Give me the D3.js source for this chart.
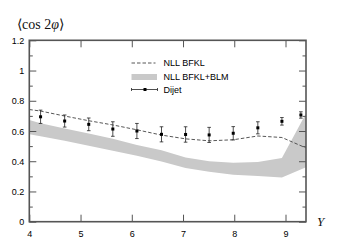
<!DOCTYPE html>
<html>
<head>
<meta charset="utf-8">
<script src="https://cdn.jsdelivr.net/npm/d3@7"></script>
<style>
  body { margin: 0; background: #fff; }
  svg { display: block; }
</style>
</head>
<body>
<svg id="drawing_region"></svg>
<script>
// rapidity bins of the dijet measurement
const rapidity = [4.22, 4.69, 5.16, 5.63, 6.10, 6.58, 7.05, 7.51, 7.98, 8.46, 8.93, 9.30];
const dijet = [0.694, 0.666, 0.644, 0.613, 0.600, 0.578, 0.577, 0.574, 0.585, 0.621, 0.664, 0.706];
const dijet_err = [0.044, 0.040, 0.042, 0.048, 0.050, 0.050, 0.051, 0.050, 0.044, 0.040, 0.025, 0.021];

// theory curves
const theory_y = [4.0, 4.22, 4.69, 5.16, 5.63, 6.10, 6.58, 7.05, 7.51, 7.98, 8.46, 8.93, 9.4];
const nll = [0.742, 0.732, 0.699, 0.668, 0.640, 0.608, 0.573, 0.548, 0.535, 0.542, 0.567, 0.557, 0.488];
const blm_low = [0.578, 0.565, 0.535, 0.502, 0.469, 0.436, 0.398, 0.355, 0.330, 0.310, 0.302, 0.293, 0.360];
const blm_high = [0.672, 0.651, 0.617, 0.583, 0.549, 0.507, 0.472, 0.425, 0.400, 0.390, 0.395, 0.421, 0.715];

const x_ticks = [4, 5, 6, 7, 8, 9];
const y_ticks = [0, 0.2, 0.4, 0.6, 0.8, 1, 1.2];
const y_minor = [0.1, 0.3, 0.5, 0.7, 0.9, 1.1];

class AsymChart {

  constructor( config ) {
    this.config = {
      parent: config.parent,
      width: config.width || 338,
      height: config.height || 248,
      margin: config.margin,
    };
    this.init();
  }

  init() {
    let self = this;
    const m = self.config.margin;

    self.inner_width = self.config.width - m.left - m.right;
    self.inner_height = self.config.height - m.top - m.bottom;

    self.svg = d3.select( self.config.parent )
      .attr('width', self.config.width)
      .attr('height', self.config.height);

    self.chart = self.svg.append('g')
      .attr('transform', `translate(${m.left}, ${m.top})`);

    self.xscale = d3.scaleLinear()
      .domain([4, 9.4])
      .range([0, self.inner_width]);

    self.yscale = d3.scaleLinear()
      .domain([0, 1.2])
      .range([self.inner_height, 0]);
  }

  render() {
    let self = this;
    const W = self.inner_width, H = self.inner_height;
    const axis_color = '#555';
    const font = 'Liberation Sans, Arial, sans-serif';

    // BLM band
    const band = theory_y.map( (y, i) => ({ y: y, lo: blm_low[i], hi: blm_high[i] }) );
    self.chart.append('path')
      .datum(band)
      .attr('fill', '#c9c9c9')
      .attr('d', d3.area()
        .x( d => self.xscale(d.y) )
        .y0( d => self.yscale(d.lo) )
        .y1( d => self.yscale(d.hi) ));

    // NLL BFKL dashed
    self.chart.append('path')
      .datum( theory_y.map( (y, i) => [y, nll[i]] ) )
      .attr('fill', 'none')
      .attr('stroke', '#444')
      .attr('stroke-width', 0.9)
      .attr('stroke-dasharray', '3.5,2')
      .attr('d', d3.line()
        .x( d => self.xscale(d[0]) )
        .y( d => self.yscale(d[1]) ));

    // dijet points with error bars
    const pts = self.chart.selectAll('.pt')
      .data( rapidity.map( (y, i) => ({ y: y, v: dijet[i], e: dijet_err[i] }) ) )
      .enter()
      .append('g')
      .attr('class', 'pt')
      .attr('transform', d => `translate(${self.xscale(d.y)},0)`);

    pts.append('line')
      .attr('y1', d => self.yscale(d.v - d.e))
      .attr('y2', d => self.yscale(d.v + d.e))
      .attr('stroke', '#222')
      .attr('stroke-width', 0.8);
    pts.append('line')
      .attr('x1', -1.8).attr('x2', 1.8)
      .attr('y1', d => self.yscale(d.v + d.e))
      .attr('y2', d => self.yscale(d.v + d.e))
      .attr('stroke', '#222').attr('stroke-width', 0.8);
    pts.append('line')
      .attr('x1', -1.8).attr('x2', 1.8)
      .attr('y1', d => self.yscale(d.v - d.e))
      .attr('y2', d => self.yscale(d.v - d.e))
      .attr('stroke', '#222').attr('stroke-width', 0.8);
    pts.append('rect')
      .attr('x', -1.5).attr('width', 3)
      .attr('y', d => self.yscale(d.v) - 1.5).attr('height', 3)
      .attr('fill', '#000');

    // axes: ticks inward on all four sides
    const bottom = self.chart.append('g')
      .attr('transform', `translate(0, ${H})`)
      .call( d3.axisBottom(self.xscale).tickValues(x_ticks).tickSize(-7).tickFormat(d3.format('d')) );
    const top = self.chart.append('g')
      .call( d3.axisTop(self.xscale).tickValues(x_ticks).tickSize(-7).tickFormat('') );
    const left = self.chart.append('g')
      .call( d3.axisLeft(self.yscale).tickValues(y_ticks).tickSize(-7)
        .tickFormat( d => d === 0 || d === 1 ? d3.format('d')(d) : d3.format('.1f')(d) ) );
    const left_minor = self.chart.append('g')
      .call( d3.axisLeft(self.yscale).tickValues(y_minor).tickSize(-3.5).tickFormat('') );
    const right = self.chart.append('g')
      .attr('transform', `translate(${W}, 0)`)
      .call( d3.axisRight(self.yscale).tickValues(y_ticks).tickSize(-7).tickFormat('') );
    const right_minor = self.chart.append('g')
      .attr('transform', `translate(${W}, 0)`)
      .call( d3.axisRight(self.yscale).tickValues(y_minor).tickSize(-3.5).tickFormat('') );

    [bottom, top, left, left_minor, right, right_minor].forEach( g => {
      g.select('.domain').remove();
      g.selectAll('line').attr('stroke', axis_color).attr('stroke-width', 1);
      g.selectAll('text')
        .attr('fill', '#000')
        .style('font-family', font)
        .style('font-size', '9px');
    });
    left.selectAll('text').attr('dy', '0.35em').attr('x', -5);
    bottom.selectAll('text').attr('dy', 0).attr('y', 15);

    // frame
    self.chart.append('rect')
      .attr('width', W).attr('height', H)
      .attr('fill', 'none')
      .attr('stroke', axis_color)
      .attr('stroke-width', 1.6);

    // axis titles
    const title = self.svg.append('text')
      .attr('x', 17).attr('y', 29)
      .style('font-family', 'Liberation Serif, Times New Roman, serif')
      .style('font-size', '14px')
      .attr('fill', '#111');
    title.append('tspan').text('\u27E8cos 2');
    title.append('tspan').style('font-style', 'italic').text('\u03C6');
    title.append('tspan').text('\u27E9');

    self.svg.append('text')
      .attr('x', 317).attr('y', 226)
      .style('font-family', 'Liberation Serif, Times New Roman, serif')
      .style('font-size', '13px')
      .style('font-style', 'italic')
      .attr('fill', '#111')
      .text('Y');

    // legend
    const lg = self.svg.append('g').attr('transform', 'translate(131.5, 0)');
    const lx = 32;
    lg.append('line')
      .attr('x1', 0).attr('x2', 24).attr('y1', 63).attr('y2', 63)
      .attr('stroke', '#444').attr('stroke-width', 0.9).attr('stroke-dasharray', '3.5,2');
    lg.append('rect')
      .attr('x', 0).attr('width', 25.5).attr('y', 74).attr('height', 6)
      .attr('fill', '#c9c9c9');
    lg.append('line')
      .attr('x1', 0).attr('x2', 26).attr('y1', 89.5).attr('y2', 89.5)
      .attr('stroke', '#222').attr('stroke-width', 0.8);
    [0, 26].forEach( x => {
      lg.append('line')
        .attr('x1', x).attr('x2', x).attr('y1', 88).attr('y2', 91)
        .attr('stroke', '#222').attr('stroke-width', 0.8);
    });
    lg.append('rect')
      .attr('x', 12).attr('y', 88).attr('width', 3).attr('height', 3)
      .attr('fill', '#000');

    const labels = ['NLL BFKL', 'NLL BFKL+BLM', 'Dijet'];
    lg.selectAll('.lab')
      .data(labels)
      .enter()
      .append('text')
      .attr('x', lx)
      .attr('y', (d, i) => 66.3 + i * 13.3)
      .style('font-family', font)
      .style('font-size', '9px')
      .attr('fill', '#000')
      .text( d => d );
  }
}

const chart = new AsymChart({
  parent: '#drawing_region',
  width: 338,
  height: 248,
  margin: { left: 29.3, top: 40.3, right: 32, bottom: 26.3 },
});
chart.render();
</script>
</body>
</html>
